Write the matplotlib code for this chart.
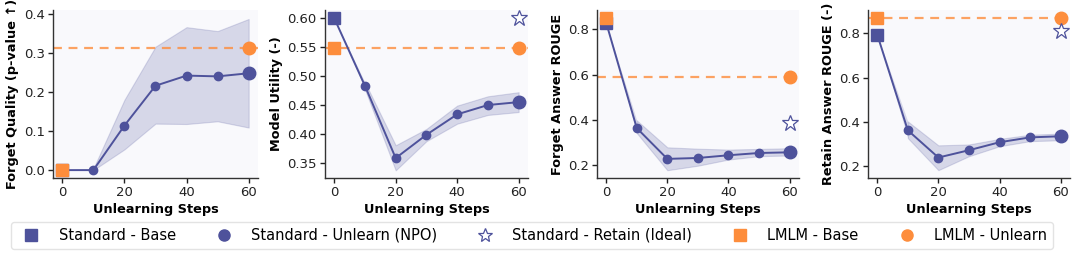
import matplotlib
matplotlib.use("Agg")
import matplotlib.pyplot as plt
from matplotlib.lines import Line2D
import numpy as np

steps = [0, 10, 20, 30, 40, 50, 60]

titles = ["Forget Quality (p-value \u2191)", "Model Utility (-)",
          "Forget Answer ROUGE", "Retain Answer ROUGE (-)"]

# Standard - Unlearn (NPO) mean and band, step 0 = Standard - Base
npo_mean = [
    [0.0, 0.0, 0.114, 0.216, 0.242, 0.240, 0.248],
    [0.599, 0.483, 0.359, 0.399, 0.434, 0.450, 0.455],
    [0.829, 0.364, 0.228, 0.232, 0.244, 0.254, 0.257],
    [0.794, 0.362, 0.239, 0.272, 0.308, 0.330, 0.335],
]
npo_upper = [
    [0.0, 0.004, 0.180, 0.316, 0.366, 0.356, 0.387],
    [0.599, 0.489, 0.381, 0.409, 0.449, 0.465, 0.472],
    [0.829, 0.398, 0.279, 0.273, 0.269, 0.272, 0.275],
    [0.794, 0.402, 0.294, 0.298, 0.323, 0.342, 0.347],
]
npo_lower = [
    [0.0, 0.0, 0.053, 0.119, 0.118, 0.125, 0.109],
    [0.599, 0.477, 0.338, 0.388, 0.418, 0.433, 0.438],
    [0.829, 0.342, 0.178, 0.198, 0.225, 0.240, 0.243],
    [0.794, 0.327, 0.182, 0.245, 0.290, 0.313, 0.317],
]
std_retain = [None, 0.600, 0.386, 0.812]
lmlm_base = [0.0, 0.547, 0.849, 0.871]
lmlm_unlearn = [0.313, 0.547, 0.589, 0.871]

ylims = [(-0.02, 0.41), (0.325, 0.613), (0.144, 0.885), (0.147, 0.905)]
yticks = [[0.0, 0.1, 0.2, 0.3, 0.4],
          [0.35, 0.40, 0.45, 0.50, 0.55, 0.60],
          [0.2, 0.4, 0.6, 0.8],
          [0.2, 0.4, 0.6, 0.8]]
yfmt = ["{:.1f}", "{:.2f}", "{:.1f}", "{:.1f}"]

purple = "#4e529b"
orange = "#fd8d3c"
bg = "#f9f9fc"

plt.rcParams["font.family"] = ["DejaVu Sans"]
fig = plt.figure(figsize=(10.79, 2.56), dpi=100)

lefts = [0.0491, 0.3012, 0.5533, 0.8045]
widths = [0.190, 0.188, 0.187, 0.187]
bottom, top = 0.305, 0.961

for i in range(4):
    ax = fig.add_axes([lefts[i], bottom, widths[i], top - bottom])
    ax.set_facecolor(bg)
    for s in ["top", "right"]:
        ax.spines[s].set_visible(False)
    for s in ["left", "bottom"]:
        ax.spines[s].set_color("#333333")
        ax.spines[s].set_linewidth(1.0)
    ax.fill_between(steps[1:], npo_lower[i][1:], npo_upper[i][1:],
                    color=purple, alpha=0.2, linewidth=0.8, zorder=1)
    ax.fill_between(steps[:2], [npo_lower[i][0], npo_lower[i][1]],
                    [npo_upper[i][0], npo_upper[i][1]],
                    color=purple, alpha=0.2, linewidth=0, zorder=1)
    ax.plot(steps, npo_mean[i], color=purple, lw=1.4, zorder=3)
    ax.plot(steps[1:-1], npo_mean[i][1:-1], "o", color=purple, ms=6, zorder=4)
    ax.plot([steps[-1]], [npo_mean[i][-1]], "o", color=purple, ms=9, zorder=5)
    ax.axhline(lmlm_unlearn[i], color=orange, ls="--", lw=1.6, alpha=0.8,
               dashes=(4, 3), zorder=2)
    ax.plot([0], [npo_mean[i][0]], "s", color=purple, ms=9, zorder=5)
    ax.plot([0], [lmlm_base[i]], "s", color=orange, ms=9, zorder=6)
    ax.plot([60], [lmlm_unlearn[i]], "o", color=orange, ms=9, zorder=6)
    if std_retain[i] is not None:
        ax.plot([60], [std_retain[i]], "*", mfc="white", mec=purple,
                mew=0.9, ms=12, zorder=6)
    ax.set_xlim(-3, 63)
    ax.set_ylim(*ylims[i])
    ax.set_xticks([0, 20, 40, 60])
    ax.set_yticks(yticks[i])
    ax.set_yticklabels([yfmt[i].format(v) for v in yticks[i]])
    ax.tick_params(labelsize=9.5, length=3.5, width=1, colors="#222222",
                   pad=2.5)
    ax.set_xlabel("Unlearning Steps", fontsize=9.3, fontweight="bold", labelpad=3)
    ax.set_ylabel(titles[i], fontsize=9.3, fontweight="bold", labelpad=3)

handles = [
    Line2D([], [], ls="none", marker="s", color=purple, ms=8),
    Line2D([], [], ls="none", marker="o", color=purple, ms=8),
    Line2D([], [], ls="none", marker="*", mfc="white", mec=purple, mew=0.9, ms=10),
    Line2D([], [], ls="none", marker="s", color=orange, ms=8),
    Line2D([], [], ls="none", marker="o", color=orange, ms=8),
]
labels = ["Standard - Base", "Standard - Unlearn (NPO)",
          "Standard - Retain (Ideal)", "LMLM - Base", "LMLM - Unlearn"]
fig.legend(handles, labels, loc="lower center", bbox_to_anchor=(0.493, 0.01),
           ncol=5, fontsize=10.5, frameon=True, fancybox=True,
           handlelength=2.0, handletextpad=0.86, columnspacing=2.3,
           borderpad=0.42, borderaxespad=0.3, edgecolor="#dddddd")

fig.savefig("out.png", dpi=100)
